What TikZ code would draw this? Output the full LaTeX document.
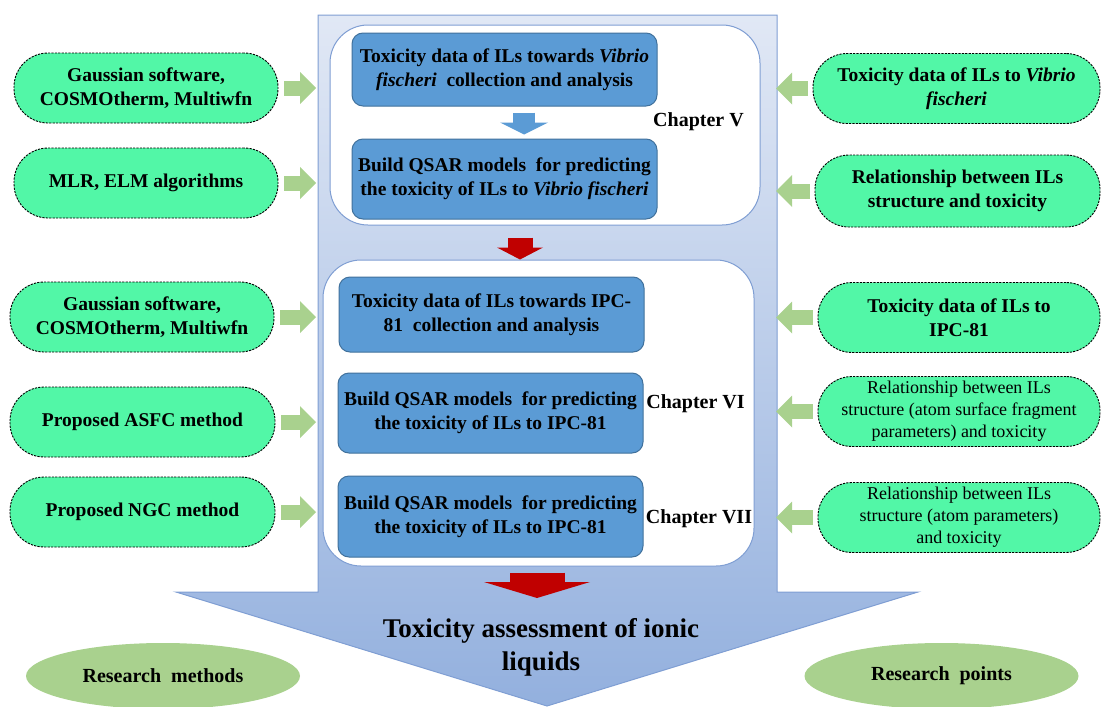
\documentclass[tikz,border=0pt]{standalone}
\usepackage{fontspec}
\setmainfont{Liberation Serif}
\usetikzlibrary{shapes,arrows.meta,positioning,calc}

\definecolor{pillgreen}{HTML}{52F7A7}
\definecolor{feedgreen}{HTML}{A9D18E}
\definecolor{taskblue}{HTML}{5B9BD5}
\definecolor{taskedge}{HTML}{41719C}
\definecolor{shellblue}{HTML}{7F9ED3}
\definecolor{shelltop}{HTML}{E1E8F5}
\definecolor{shellbottom}{HTML}{93B0DE}
\definecolor{flowred}{HTML}{C00000}

\tikzset{
  pill/.style={draw, dash pattern=on 2.2pt off 1.2pt, line width=0.9pt, fill=pillgreen, rectangle, rounded corners=34pt, minimum height=70pt, align=center, inner sep=2pt, font=\fontsize{19.5}{24}\selectfont\bfseries},
  plainpill/.style={pill, font=\fontsize{18}{22}\selectfont},
  task/.style={draw=taskedge, line width=1pt, fill=taskblue, rectangle, rounded corners=11pt, minimum width=305pt, align=center, inner sep=2pt, font=\fontsize{19.5}{24}\selectfont\bfseries},
  chapbox/.style={draw=shellblue, line width=1pt, fill=white, rectangle, rounded corners=38pt},
  chaplabel/.style={font=\fontsize{20}{24}\selectfont\bfseries, inner sep=0pt},
  tag/.style={ellipse, fill=feedgreen, minimum width=274pt, minimum height=66pt, font=\fontsize{20}{24}\selectfont\bfseries},
  feed/.style={draw=feedgreen, line width=15pt, -{Triangle[length=16pt,width=32pt,line width=0pt]}},
  nextblue/.style={draw=taskblue, line width=22pt, -{Triangle[length=12pt,width=48pt,line width=0pt]}},
  nextred/.style={draw=flowred, line width=25pt, -{Triangle[length=12pt,width=46pt,line width=0pt]}},
  finalred/.style={draw=flowred, line width=55pt, -{Triangle[length=16pt,width=106pt,line width=0pt]}}
}

\begin{document}
\begin{tikzpicture}[x=1pt,y=-1pt]
\useasboundingbox (0,0) rectangle (1101,707);

\path[draw=shellblue, line width=1pt, top color=shelltop, bottom color=shellbottom]
  (318,15) -- (777,15) -- (777,592) -- (918,592) -- (547,706) -- (176,592) -- (318,592) -- cycle;
\node[font=\fontsize{27}{33}\selectfont\bfseries, align=center] (goal) at (541,647) {Toxicity assessment of ionic\\liquids};

\node[chapbox, minimum width=430pt, minimum height=200pt] (chap5) at (545,125) {};
\node[chapbox, minimum width=431pt, minimum height=306pt] (chap6) at (538.5,413) {};

\node[task, minimum height=73pt] (b1) at (504.5,69.5) {Toxicity data of ILs towards \textit{Vibrio}\\\textit{fischeri}~ collection and analysis};
\node[task, minimum height=80pt] (b2) at (504.5,179) {Build QSAR models~ for predicting\\the toxicity of ILs to \textit{Vibrio fischeri}};
\node[task, minimum height=75pt] (b3) at (491.5,314.5) {Toxicity data of ILs towards IPC-\\81~ collection and analysis};
\node[task, minimum height=80pt] (b4) at (490.5,413) {Build QSAR models~ for predicting\\the toxicity of ILs to IPC-81};
\node[task, minimum height=81pt] (b5) at (490.5,516.5) {Build QSAR models~ for predicting\\the toxicity of ILs to IPC-81};

\node[chaplabel] (ch5) at (698.5,122) {Chapter V};
\node[chaplabel] (ch6) at (695.5,404) {Chapter VI};
\node[chaplabel] (ch7) at (699,519) {Chapter VII};

\node[pill, minimum width=264pt] (g1) at (146,88) {Gaussian software,\\COSMOtherm, Multiwfn};
\node[pill, minimum width=264pt] (g2) at (146,183) {MLR, ELM algorithms};
\node[pill, minimum width=264pt] (g3) at (142,317) {Gaussian software,\\COSMOtherm, Multiwfn};
\node[pill, minimum width=265pt] (g4) at (142.5,422) {Proposed ASFC method};
\node[pill, minimum width=265pt] (g5) at (142.5,512) {Proposed NGC method};

\node[pill, minimum width=287pt] (r1) at (956.5,88.5) {Toxicity data of ILs to \textit{Vibrio}\\\textit{fischeri}};
\node[pill, minimum width=285pt, minimum height=72pt] (r2) at (957.5,191) {Relationship between ILs\\structure and toxicity};
\node[pill, minimum width=282pt] (r3) at (959,317.5) {Toxicity data of ILs to\\IPC-81};
\node[plainpill, minimum width=282pt] (r4) at (959,411.5) {Relationship between ILs\\structure (atom surface fragment\\parameters) and toxicity};
\node[plainpill, minimum width=282pt] (r5) at (959,517.5) {Relationship between ILs\\structure (atom parameters)\\and toxicity};

\node[tag] (methods) at (163,676) {Research~ methods};
\node[tag] (points) at (941.5,676) {Research~ points};

\coordinate (inL) at (316,0);
\coordinate (inR) at (776,0);
\coordinate (joint) at (537,598);

\foreach \g in {g1,g2,g3,g4,g5}
  \draw[feed, shorten <=6pt] (\g.east) -- (\g.east -| inL);
\foreach \r in {r1,r2,r3,r4,r5}
  \draw[feed, shorten <=5pt] (\r.west) -- (\r.west -| inR);

\draw[nextblue, shorten <=6pt, shorten >=4pt] ([xshift=19.5pt]b1.south) -- ([xshift=19.5pt]b1.south |- b2.north);
\draw[nextred, shorten <=12pt] ([xshift=-25pt]chap5.south) -- ([xshift=-25pt]chap5.south |- chap6.north);
\draw[finalred, shorten <=6pt] ([xshift=-1.5pt]chap6.south) -- (joint);
\end{tikzpicture}
\end{document}
